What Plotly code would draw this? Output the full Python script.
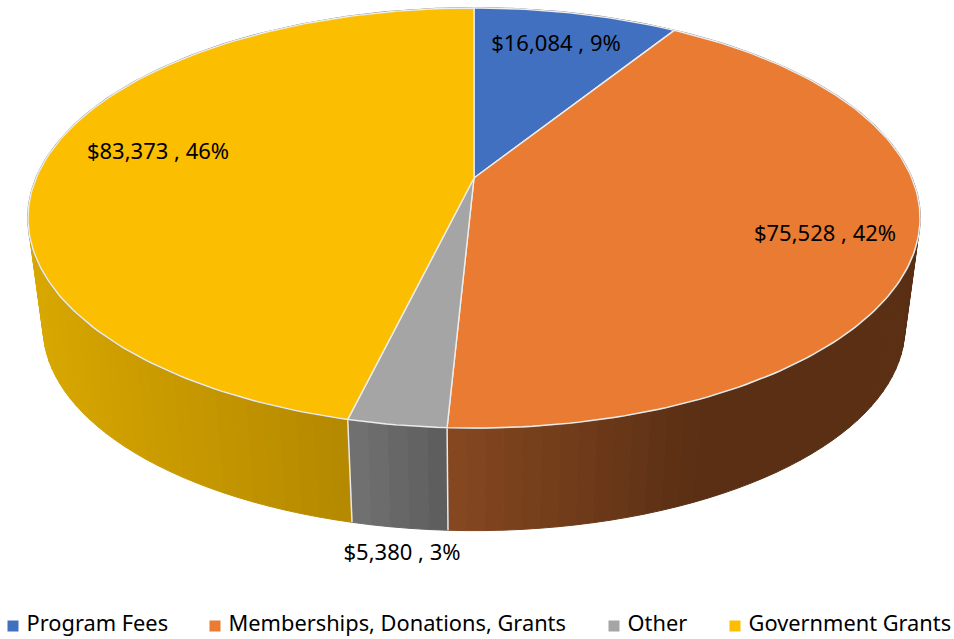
import math
import plotly.graph_objects as go

categories = ["Program Fees", "Memberships, Donations, Grants", "Other", "Government Grants"]
values = [16084, 75528, 5380, 83373]
top_colors = ["#4170C0", "#E97B32", "#A5A5A5", "#FBBE00"]

# Wall shading: (left colour, right colour) along each visible side
wall_shades = {
    0: [(60, 90, 150), (60, 90, 150)],
    1: [(134, 72, 32), (90, 47, 20)],
    2: [(114, 114, 114), (92, 92, 92)],
    3: [(216, 167, 0), (166, 124, 0)],
}
label_pos = [(556, 45), (825, 235), (402, 554), (158, 153)]
legend_marker_x = [13, 215, 614, 735]

# Perspective projection of the disc onto the picture
CX = 474
K = 0.1905
TOP = dict(y=178, S=202.4, R=437.8)
BOT = dict(y=289, S=195.6, R=423.0)


def project(theta, plane):
    w = 1 + K * math.cos(theta)
    return CX + plane["R"] * math.sin(theta) / w, plane["y"] - plane["S"] * math.cos(theta) / w


total = sum(values)
edges = [0.0]
for v in values:
    edges.append(edges[-1] + v / total * 2 * math.pi)

fig = go.Figure()


def poly(xs, ys, fill, line=None, width=0):
    fig.add_trace(go.Scatter(
        x=xs, y=ys, mode="lines", fill="toself", fillcolor=fill,
        line=dict(color=line or fill, width=width), hoverinfo="skip", showlegend=False))


def mix(a, b, t):
    t = max(0.0, min(1.0, t))
    return "rgb(%d,%d,%d)" % tuple(round(a[i] + (b[i] - a[i]) * t) for i in range(3))


# Walls, sorted so that the nearest are drawn last
STEP = math.radians(2.0)
for i in range(4):
    a, b = edges[i], edges[i + 1]
    n = max(1, int((b - a) / STEP))
    ths = [a + (b - a) * j / n for j in range(n + 1)]
    xa = min(project(t, TOP)[0] for t in ths)
    xb = max(project(t, TOP)[0] for t in ths)
    if i == 1:
        xb = 700
    for j in range(n):
        t0, t1 = ths[j], ths[j + 1]
        p0, p1 = project(t0, TOP), project(t1, TOP)
        q1, q0 = project(t1, BOT), project(t0, BOT)
        xm = (p0[0] + p1[0]) / 2
        c = mix(*wall_shades[i], (xm - xa) / max(1, xb - xa))
        poly([p0[0], p1[0], q1[0], q0[0], p0[0]], [p0[1], p1[1], q1[1], q0[1], p0[1]], c, c, 1)

# Vertical white seams between the visible walls
for e in edges[2:4]:
    p, q = project(e, TOP), project(e, BOT)
    fig.add_trace(go.Scatter(x=[p[0], q[0]], y=[p[1], q[1]], mode="lines",
                             line=dict(color="#E8E8E8", width=1.5),
                             hoverinfo="skip", showlegend=False))

# Fine grey outline round the rim
ring = [2 * math.pi * j / 360 for j in range(361)]
fig.add_trace(go.Scatter(x=[project(t, TOP)[0] for t in ring], y=[project(t, TOP)[1] for t in ring],
                         mode="lines", line=dict(color="#8C8C8C", width=1.8),
                         hoverinfo="skip", showlegend=False))

# Top face
for i in range(4):
    a, b = edges[i], edges[i + 1]
    n = max(2, int((b - a) / math.radians(1)))
    pts = [project(a + (b - a) * j / n, TOP) for j in range(n + 1)]
    apex = (CX, TOP["y"])
    xs = [apex[0]] + [p[0] for p in pts] + [apex[0]]
    ys = [apex[1]] + [p[1] for p in pts] + [apex[1]]
    poly(xs, ys, top_colors[i], "#EDEDED", 1.4)

FONT = "Noto Sans"
# Data labels
fig.add_trace(go.Scatter(
    x=[p[0] for p in label_pos], y=[p[1] for p in label_pos], mode="text",
    text=[f"${v:,} , {v / total * 100:.0f}%" for v in values],
    textposition="middle center", textfont=dict(family=FONT, size=22, color="#000000"),
    hoverinfo="skip", showlegend=False))

# Legend row
fig.add_trace(go.Scatter(
    x=legend_marker_x, y=[626] * 4, mode="markers+text",
    marker=dict(symbol="square", size=11, color=top_colors),
    text=[" " + c for c in categories], textposition="middle right",
    textfont=dict(family=FONT, size=21.8, color="#000000"),
    hoverinfo="skip", showlegend=False, cliponaxis=False))

fig.update_layout(
    width=954, height=639, margin=dict(l=0, r=0, t=0, b=0),
    paper_bgcolor="white", plot_bgcolor="white", showlegend=False,
    xaxis=dict(range=[0, 954], visible=False, fixedrange=True),
    yaxis=dict(range=[639, 0], visible=False, fixedrange=True),
)
fig.write_html("out.html", config=dict(displayModeBar=False),
               post_script="document.body.style.margin='0';document.body.style.overflow='hidden';")
